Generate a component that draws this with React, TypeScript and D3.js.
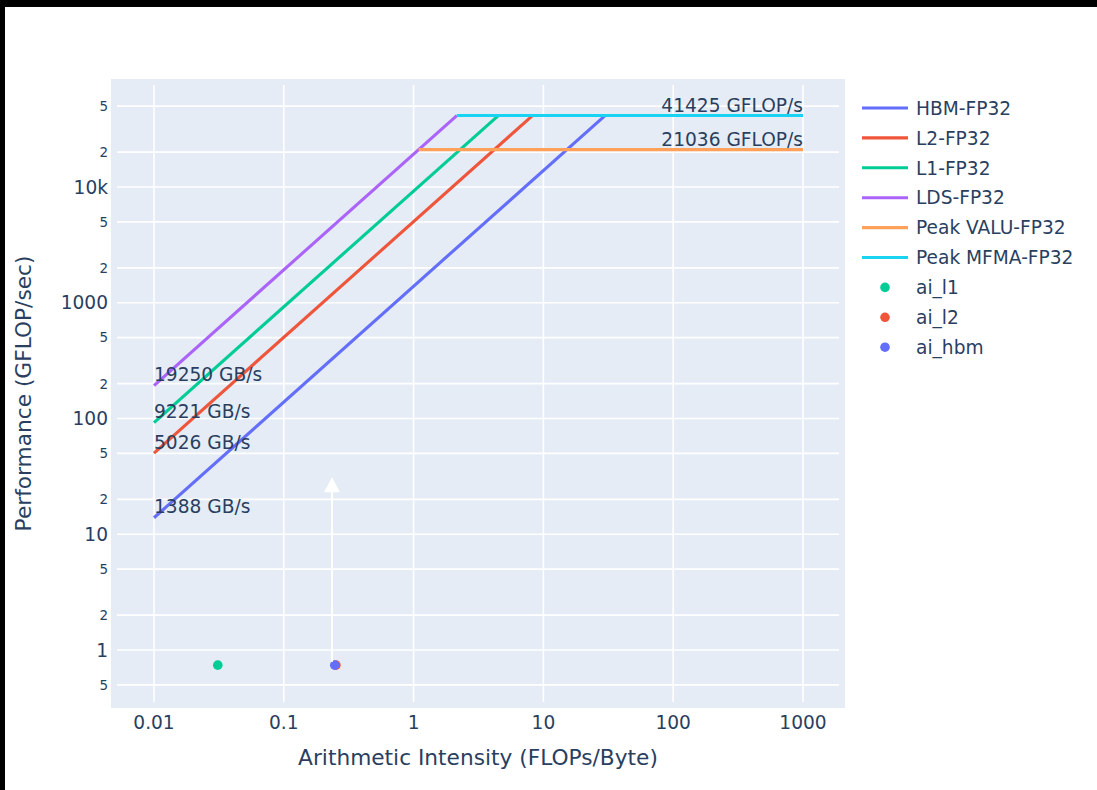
import React from 'react';
import * as d3 from 'd3';

// roofline data
const bwNames = ['HBM-FP32', 'L2-FP32', 'L1-FP32', 'LDS-FP32'];
const bwValues = [1388, 5026, 9221, 19250];
const bwColors = ['#636efa', '#EF553B', '#00cc96', '#ab63fa'];

const peakNames = ['Peak VALU-FP32', 'Peak MFMA-FP32'];
const peakValues = [21036, 41425];
const peakColors = ['#FFA15A', '#19d3f3'];

const aiNames = ['ai_l1', 'ai_l2', 'ai_hbm'];
const aiX = [0.031, 0.252, 0.247];
const aiY = [0.74, 0.74, 0.74];
const aiColors = ['#00cc96', '#EF553B', '#636efa'];

const xRange = [0.01, 1000];
const xTicks = [0.01, 0.1, 1, 10, 100, 1000];
const xTickLabels = ['0.01', '0.1', '1', '10', '100', '1000'];
const yTicks = [0.5, 1, 2, 5, 10, 20, 50, 100, 200, 500, 1000, 2000, 5000, 10000, 20000, 50000];
const yTickLabels = ['5', '1', '2', '5', '10', '2', '5', '100', '2', '5', '1000', '2', '5', '10k', '2', '5'];

// arrow annotation (x, from, to)
const arrowX = 0.235;
const arrowFrom = 0.79;
const arrowTo = 31;

const W = 1097;
const H = 790;
const font = '"DejaVu Sans", sans-serif';
const textColor = '#2a3f5f';

const App: React.FC = () => {
  const x = d3.scaleLog().domain([0.01, 1000]).range([154, 803]);
  const y = d3.scaleLog().domain([1, 10000]).range([650, 187]);

  const bg = { x0: 111, x1: 845, y0: 79, y1: 708 };
  const inset = 6;

  const maxPeak = d3.max(peakValues) as number;
  const maxBw = d3.max(bwValues) as number;

  const line = d3.line<[number, number]>().x(d => x(d[0])).y(d => y(d[1]));

  const bwLines = bwValues.map(bw => {
    const xEnd = maxPeak / bw;
    return [[xRange[0], bw * xRange[0]], [xEnd, maxPeak]] as [number, number][];
  });
  const peakLines = peakValues.map(p => {
    const xStart = p / maxBw;
    return [[xStart, p], [xRange[1], p]] as [number, number][];
  });

  const legendItems = [
    ...bwNames.map((n, i) => ({ name: n, color: bwColors[i], kind: 'line' })),
    ...peakNames.map((n, i) => ({ name: n, color: peakColors[i], kind: 'line' })),
    ...aiNames.map((n, i) => ({ name: n, color: aiColors[i], kind: 'dot' })),
  ];

  const ax = x(arrowX);
  const tipY = y(arrowTo);

  return (
    <div style={{ position: 'fixed', left: 0, top: 0, width: W, height: H, background: '#fff' }}>
      <svg width={W} height={H} style={{ display: 'block', fontFamily: font }}>
        <rect x={0} y={0} width={W} height={H} fill="#fff" />
        <rect x={bg.x0} y={bg.y0} width={bg.x1 - bg.x0} height={bg.y1 - bg.y0} fill="#E5ECF6" />

        {/* grid */}
        {xTicks.map((t, i) => (
          <line key={'gx' + i} x1={x(t)} x2={x(t)} y1={bg.y0 + inset} y2={bg.y1 - inset} stroke="#fff" strokeWidth={1.6} />
        ))}
        {yTicks.map((t, i) => (
          <line key={'gy' + i} x1={bg.x0 + inset} x2={bg.x1 - inset} y1={y(t)} y2={y(t)} stroke="#fff" strokeWidth={1.6} />
        ))}

        {/* roofline lines */}
        {bwLines.map((d, i) => (
          <path key={'bw' + i} d={line(d) || ''} fill="none" stroke={bwColors[i]} strokeWidth={3.1} />
        ))}
        {peakLines.map((d, i) => (
          <path key={'pk' + i} d={line(d) || ''} fill="none" stroke={peakColors[i]} strokeWidth={3.1} />
        ))}

        {/* labels */}
        {bwValues.map((bw, i) => (
          <text key={'bwl' + i} x={x(xRange[0])} y={y(bw * xRange[0]) - 4.5} fontSize={18.6} fill={textColor}>
            {bw} GB/s
          </text>
        ))}
        {peakValues.map((p, i) => (
          <text key={'pkl' + i} x={x(xRange[1])} y={y(p) - 4} fontSize={18.6} fill={textColor} textAnchor="end">
            {p} GFLOP/s
          </text>
        ))}

        {/* points */}
        {aiNames.map((n, i) => (
          <circle key={'ai' + i} cx={x(aiX[i])} cy={y(aiY[i])} r={4.8} fill={aiColors[i]} />
        ))}

        {/* arrow */}
        <line x1={ax} x2={ax} y1={y(arrowFrom)} y2={tipY + 14} stroke="#fff" strokeWidth={2} />
        <path d={`M${ax},${tipY} L${ax + 8},${tipY + 15} L${ax - 8},${tipY + 15} Z`} fill="#fff" />

        {/* axes */}
        {xTicks.map((t, i) => (
          <text key={'xt' + i} x={x(t)} y={729} fontSize={18.6} fill={textColor} textAnchor="middle">
            {xTickLabels[i]}
          </text>
        ))}
        {yTicks.map((t, i) => {
          const major = Math.abs(Math.log10(t) - Math.round(Math.log10(t))) < 1e-9;
          return (
            <text key={'yt' + i} x={108} y={y(t)} dy="0.36em" fontSize={major ? 18.6 : 13.5} fill={textColor} textAnchor="end">
              {yTickLabels[i]}
            </text>
          );
        })}

        <text x={(bg.x0 + bg.x1) / 2} y={765} fontSize={21.7} fill={textColor} textAnchor="middle">
          Arithmetic Intensity (FLOPs/Byte)
        </text>
        <text
          transform={`translate(31,${(bg.y0 + bg.y1) / 2}) rotate(-90)`}
          fontSize={21.7}
          fill={textColor}
          textAnchor="middle"
        >
          Performance (GFLOP/sec)
        </text>

        {/* legend */}
        {legendItems.map((it, i) => {
          const ly = 108 + i * 29.9;
          return (
            <g key={'lg' + i} transform={`translate(0,${ly})`}>
              {it.kind === 'line' ? (
                <line x1={862} x2={908} y1={0} y2={0} stroke={it.color} strokeWidth={3.1} />
              ) : (
                <circle cx={885} cy={0} r={4.8} fill={it.color} />
              )}
              <text x={916} y={0} dy="0.36em" fontSize={18.6} fill={textColor}>
                {it.name}
              </text>
            </g>
          );
        })}

        {/* screenshot frame */}
        <rect x={0} y={0} width={W} height={7} fill="#000" />
        <rect x={0} y={0} width={5} height={H} fill="#000" />
      </svg>
    </div>
  );
};

export default App;
